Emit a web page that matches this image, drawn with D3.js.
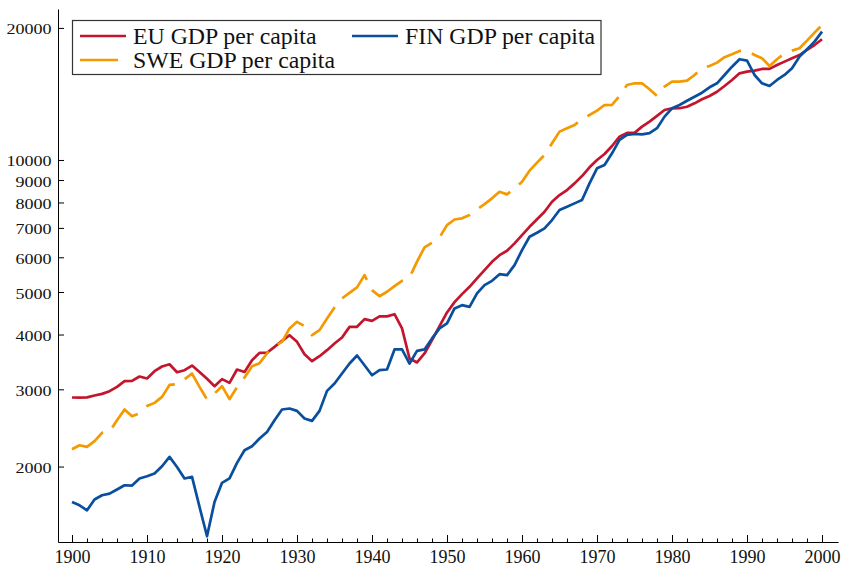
<!DOCTYPE html>
<meta charset="utf-8">
<style>
body { margin: 0; background: #fff; }
svg { display: block; font-family: "Liberation Serif", "DejaVu Serif", serif; }
.axis path, .axis line { stroke: #000; stroke-width: 1; }
.axis text { fill: #111; }
.line { fill: none; stroke-width: 2.7; stroke-linejoin: round; }
</style>

<svg width="843" height="567"></svg>

<script src="https://d3js.org/d3.v7.min.js"></script>
<script>

// years 1900 - 2000
var years = d3.range(1900, 2001);

// GDP per capita
var eu = [2874,2872,2876,2904,2929,2971,3039,3131,3135,3209,
  3176,3300,3382,3422,3282,3317,3398,3287,3170,3050,
  3165,3103,3329,3287,3496,3633,3636,3749,3870,3985,
  3849,3607,3478,3570,3685,3816,3939,4164,4166,4337,
  4298,4398,4400,4450,4130,3527,3454,3621,3884,4179,
  4492,4742,4944,5139,5371,5610,5860,6068,6209,6454,
  6740,7042,7323,7620,8031,8316,8541,8844,9191,9623,
  10000,10318,10762,11303,11525,11530,11914,12229,12600,13000,
  13117,13120,13226,13462,13751,13989,14310,14745,15220,15761,
  15896,15981,16125,16130,16463,16758,17062,17351,17820,18286,
  18850];

var swe = [2191,2237,2217,2285,2387,2402,2551,2699,2605,2645,
  2749,2794,2883,3070,3082,3160,3259,3039,2845,2935,
  3050,2849,3034,3193,3386,3441,3621,3763,3849,4130,
  4275,4179,3985,4093,4353,4612,4835,4979,5123,5464,
  5051,4891,5006,5158,5303,5393,5866,6321,6475,6661,
  7104,7315,7362,7487,7717,7933,8177,8464,8348,8618,
  8920,9453,9858,10263,10917,11605,11815,12015,12386,12666,
  12952,13343,13350,13989,14821,14955,14960,14493,13984,14691,
  15083,15090,15164,15622,16184,16378,16670,17150,17417,17726,
  17730,17351,17062,16376,16972,17510,17754,17980,18711,19509,
  20312];

var fin = [1661,1632,1590,1682,1720,1735,1773,1813,1810,1879,
  1901,1928,2003,2104,1996,1879,1894,1618,1387,1661,
  1836,1879,2039,2179,2225,2318,2399,2551,2699,2713,
  2679,2574,2542,2679,2976,3093,3259,3435,3583,3404,
  3230,3317,3329,3699,3699,3435,3671,3699,3919,4130,
  4239,4588,4667,4626,4963,5184,5303,5492,5462,5757,
  6232,6682,6824,6984,7296,7689,7823,7963,8104,8844,
  9573,9738,10357,11110,11403,11463,11440,11510,11815,12555,
  13117,13343,13649,13938,14235,14645,14955,15622,16319,16972,
  16847,15622,14955,14745,15220,15622,16184,17204,17886,18611,
  19612];

var yTicks = [2000, 3000, 4000, 5000, 6000, 7000, 8000, 9000, 10000, 20000];
var xTicks = [1900, 1910, 1920, 1930, 1940, 1950, 1960, 1970, 1980, 1990, 2000];

var series = [
  {name: "EU GDP per capita",  values: eu,  color: "#c3152d", dash: null},
  {name: "SWE GDP per capita", values: swe, color: "#f39a00", dash: "38,11.5"},
  {name: "FIN GDP per capita", values: fin, color: "#0a4f9d", dash: null}
];

var svg = d3.select("svg");

// plot box
var plotL = 58, plotR = 838, plotT = 9, plotB = 542;

var x = d3.scaleLinear()
    .domain([1898.13, 2002.13])
    .range([plotL, plotR]);

var y = d3.scaleLog()
    .domain([1346, 22090])
    .range([plotB, plotT]);

// axes
var minor = d3.range(1900, 2002, 2).filter(function(d) { return d % 10 != 0; });

svg.append("g")
    .attr("class", "axis")
    .attr("transform", "translate(0," + plotB + ")")
    .call(d3.axisBottom(x).tickValues(minor).tickSize(-3.5).tickFormat(""))
    .select(".domain").remove();

var xa = svg.append("g")
    .attr("class", "axis")
    .attr("transform", "translate(0," + plotB + ")")
    .call(d3.axisBottom(x)
      .tickValues(xTicks)
      .tickSize(-7)
      .tickSizeOuter(0)
      .tickPadding(8.5)
      .tickFormat(d3.format("d")));
xa.attr("font-family", null).attr("font-size", null);
xa.selectAll("text").attr("font-size", 18);

var ya = svg.append("g")
    .attr("class", "axis")
    .attr("transform", "translate(" + plotL + ",0)")
    .call(d3.axisLeft(y)
      .tickValues(yTicks)
      .tickSize(-6)
      .tickSizeOuter(0)
      .tickPadding(5.5)
      .tickFormat(d3.format("d")));
ya.attr("font-family", null).attr("font-size", null);
ya.selectAll("text")
    .attr("font-size", 15)
    .attr("dy", "0.4em")
    .attr("transform", "scale(1.2,1)");

// lines
var line = d3.line()
    .x(function(d, i) { return x(years[i]); })
    .y(function(d) { return y(d); });

svg.selectAll(".line")
  .data(series)
  .enter().append("path")
    .attr("class", "line")
    .attr("d", function(d) { return line(d.values); })
    .attr("stroke", function(d) { return d.color; })
    .attr("stroke-dasharray", function(d) { return d.dash; });

// legend
var legend = svg.append("g").attr("id", "legend");

legend.append("rect")
    .attr("x", 72.5)
    .attr("y", 20.5)
    .attr("width", 528.5)
    .attr("height", 54)
    .attr("fill", "#fff")
    .attr("stroke", "#333")
    .attr("stroke-width", 1.2);

var slots = [[80, 36], [80, 60], [352, 36]];

var item = legend.selectAll(".item")
  .data(series)
  .enter().append("g")
    .attr("class", "item")
    .attr("transform", function(d, i) { return "translate(" + slots[i][0] + "," + slots[i][1] + ")"; });

item.append("line")
    .attr("x1", 0)
    .attr("x2", 46)
    .attr("stroke", function(d) { return d.color; })
    .attr("stroke-width", 2.7)
    .attr("stroke-dasharray", function(d) { return d.dash; });

item.append("text")
    .attr("x", 53)
    .attr("y", 7.5)
    .attr("font-size", 23.8)
    .attr("fill", "#111")
    .text(function(d) { return d.name; });

</script>
